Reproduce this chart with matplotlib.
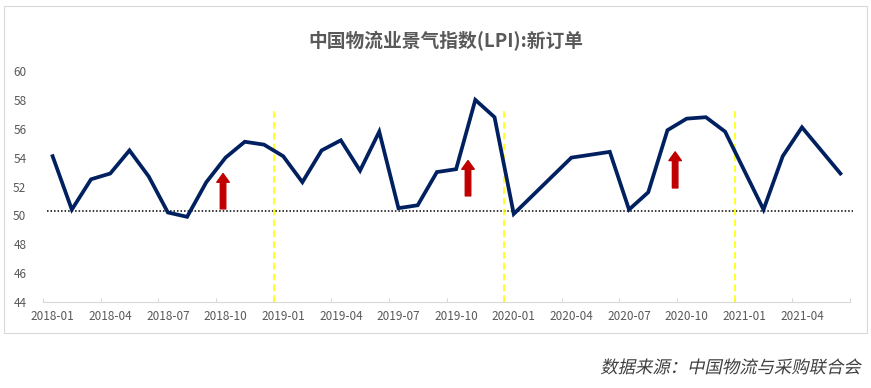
import numpy as np
import matplotlib
matplotlib.use("Agg")
import matplotlib.pyplot as plt
from matplotlib.patches import Rectangle
from matplotlib.patheffects import AbstractPathEffect
from matplotlib.transforms import Affine2D

plt.rcParams['font.family'] = ['Noto Sans CJK SC', 'DejaVu Sans']

# monthly index, 2018-01 .. 2021-06 (2020-02 / 2020-03 not published)
months = ['2018-01', '2018-02', '2018-03', '2018-04', '2018-05', '2018-06',
          '2018-07', '2018-08', '2018-09', '2018-10', '2018-11', '2018-12',
          '2019-01', '2019-02', '2019-03', '2019-04', '2019-05', '2019-06',
          '2019-07', '2019-08', '2019-09', '2019-10', '2019-11', '2019-12',
          '2020-01', '2020-02', '2020-03', '2020-04', '2020-05', '2020-06',
          '2020-07', '2020-08', '2020-09', '2020-10', '2020-11', '2020-12',
          '2021-01', '2021-02', '2021-03', '2021-04', '2021-05', '2021-06']
new_orders = [54.1, 50.4, 52.5, 52.9, 54.5, 52.7,
              50.2, 49.9, 52.3, 54.0, 55.1, 54.9,
              54.1, 52.3, 54.5, 55.2, 53.1, 55.8,
              50.5, 50.7, 53.0, 53.2, 58.0, 56.8,
              50.1, np.nan, np.nan, 54.0, 54.2, 54.4,
              50.4, 51.6, 55.9, 56.7, 56.8, 55.8,
              53.1, 50.4, 54.1, 56.1, 54.5, 52.9]

baseline = 50.3
year_marks = [11.5, 23.5, 35.5]          # boundaries between years
arrow_x = [8.87, 21.62, 32.4]
arrow_base = [50.45, 51.35, 51.9]
arrow_tip = [52.9, 53.8, 54.4]

y_ticks = [44, 46, 48, 50, 52, 54, 56, 58, 60]


class Slant(AbstractPathEffect):
    # fake italic: shear glyph outlines around a baseline (display px)
    def __init__(self, y0, angle=12):
        super().__init__()
        self.y0 = y0
        self.angle = angle

    def draw_path(self, renderer, gc, tpath, affine, rgbFace=None):
        shear = Affine2D().translate(0, -self.y0).skew_deg(self.angle, 0).translate(0, self.y0)
        renderer.draw_path(gc, tpath, affine + shear, rgbFace)


fig = plt.figure(figsize=(8.71, 3.88), dpi=100)
ax = fig.add_axes([43 / 871, 86 / 388, 807 / 871, 231 / 388])

x = np.arange(len(months))
vals = np.array(new_orders, dtype=float)
ok = ~np.isnan(vals)
ax.plot(x[ok], vals[ok], color='#002060', lw=2.7, solid_joinstyle='miter', zorder=3)

ax.plot([-0.27, 41.65], [baseline, baseline], color='black', lw=1.1,
        ls=(0, (1, 1.3)), clip_on=False, zorder=2)

for xv in year_marks:
    ax.plot([xv, xv], [44, 57.3], color='#ffff00', lw=1.2, ls=(0, (4, 2.5)), zorder=2)

for xa, yb, yt in zip(arrow_x, arrow_base, arrow_tip):
    ax.annotate('', xy=(xa, yt), xytext=(xa, yb),
                arrowprops=dict(arrowstyle='simple,head_width=0.5,head_length=0.35,tail_width=0.22',
                                color='#c00000', mutation_scale=18, shrinkA=0, shrinkB=0),
                zorder=4)

ax.set_xlim(-0.5, 41.5)
ax.set_ylim(44, 60)
ax.set_yticks(y_ticks)
ax.tick_params(axis='y', length=0, pad=12, labelsize=8.5, labelcolor='#595959')

ax.set_xticks(np.arange(-0.5, 42, 3))
ax.set_xticklabels([])
ax.set_xticks(x[::3], minor=True)
ax.set_xticklabels(months[::3], minor=True)
ax.tick_params(axis='x', which='major', direction='in', length=3, color='#d9d9d9', width=0.8)
ax.tick_params(axis='x', which='minor', length=0, pad=6, labelsize=8.5, labelcolor='#595959')

for s in ['top', 'right', 'left']:
    ax.spines[s].set_visible(False)
ax.spines['bottom'].set_color('#d9d9d9')
ax.spines['bottom'].set_linewidth(0.8)

fig.text(446 / 871, 1 - 41 / 388, '中国物流业景气指数(LPI):新订单', ha='center', va='center',
         fontsize=13.5, fontweight='bold', color='#595959')

fig.patches.append(Rectangle((4 / 871, 55 / 388), 863 / 871, 327 / 388, transform=fig.transFigure,
                             fill=False, edgecolor='#d9d9d9', lw=0.8))

fig.text(862 / 871, 1 - 368 / 388, '数据来源：中国物流与采购联合会', ha='right', va='center',
         fontsize=12.5, color='#404040', path_effects=[Slant(20)])

fig.savefig('out.png', dpi=100, facecolor='white')
